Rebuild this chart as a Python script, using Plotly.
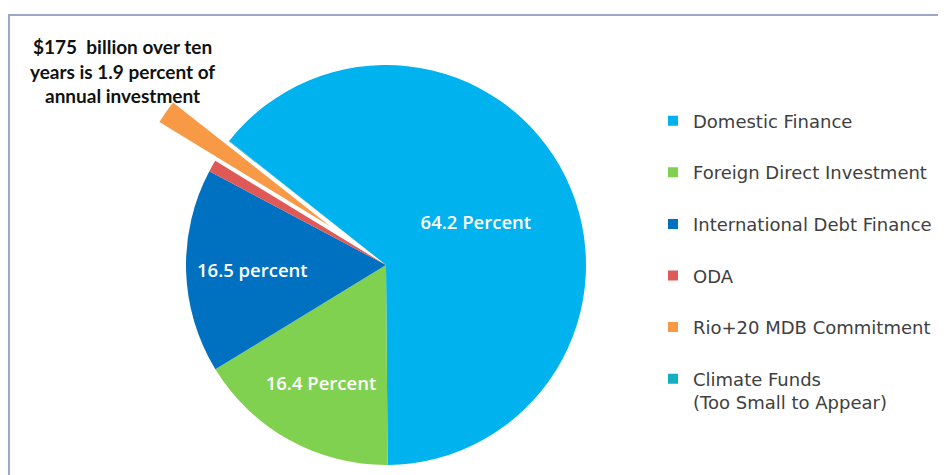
import math
import plotly.graph_objects as go

# shares of annual investment (percent)
sources = ["Domestic Finance", "Foreign Direct Investment", "International Debt Finance",
           "ODA", "Rio+20 MDB Commitment", "Climate Funds<br>(Too Small to Appear)"]
shares = [64.2, 16.4, 16.5, 0.95, 1.9, 0.05]
slice_text = ["64.2 Percent", "16.4 Percent", "16.5 percent", "", "", ""]
colors = ["#00B2EE", "#80D14F", "#0071C1", "#DF5A56", "#F89A45", "#14AEC3"]

note = "$175  billion over ten<br>years is 1.9 percent of<br>annual investment"

# the page puts the figure 8px in from the window corner
OFF = 8
W, H = 946 - OFF, 475 - OFF

def px(x):
    return (x - OFF) / W

def py(y):
    return 1 - (y - OFF) / H

cx, cy, r = 386, 265, 200      # pie centre and radius (window pixels)
rotation = -51.6
pull_px = 68                    # how far the Rio+20 slice sits out
hl = 4                          # index of pulled slice

def domain(cx_, cy_):
    return dict(x=[px(cx_ - r), px(cx_ + r)], y=[py(cy_ + r), py(cy_ - r)])

# main pie, the pulled slice left empty
main_colors = [c if i != hl else "rgba(0,0,0,0)" for i, c in enumerate(colors)]
fig = go.Figure()
fig.add_trace(go.Pie(
    labels=sources, values=shares, sort=False, direction="clockwise",
    rotation=rotation, domain=domain(cx, cy),
    marker=dict(colors=main_colors, line=dict(width=0)),
    text=slice_text, textinfo="text",
    textposition=["inside" if t else "none" for t in slice_text],
    insidetextorientation="horizontal",
    textfont=dict(family="Open Sans", size=18.5, color="white", weight=600),
    showlegend=False, hoverinfo="label+percent",
))

# the pulled Rio+20 slice: same pie, shifted along its bisector
total = sum(shares)
mid = rotation - (sum(shares[hl + 1:]) + shares[hl] / 2) / total * 360
dx = pull_px * math.sin(math.radians(mid))
dy = pull_px * math.cos(math.radians(mid))
pull_colors = [c if i == hl else "rgba(0,0,0,0)" for i, c in enumerate(colors)]
fig.add_trace(go.Pie(
    labels=sources, values=shares, sort=False, direction="clockwise",
    rotation=rotation, domain=domain(cx + dx, cy - dy),
    marker=dict(colors=pull_colors, line=dict(width=0)),
    textinfo="none", showlegend=False, hoverinfo="label+percent",
))

# legend entries
for name, c in zip(sources, colors):
    fig.add_trace(go.Scatter(
        x=[None], y=[None], mode="markers", name=name, legendgroup=name,
        marker=dict(symbol="square", size=10, color=c),
    ))

fig.add_annotation(
    text=note, x=px(122), y=py(71), xref="paper", yref="paper",
    xanchor="center", yanchor="middle",
    showarrow=False, align="center",
    font=dict(family="Lato", size=19, color="#111111", weight="bold"),
)

fig.add_shape(type="rect", xref="paper", yref="paper",
              x0=px(9), x1=1.05, y0=-0.05, y1=py(15),
              line=dict(color="#9DA7C7", width=2), fillcolor="rgba(0,0,0,0)")

fig.update_layout(
    width=W, height=H,
    margin=dict(l=0, r=0, t=0, b=0),
    paper_bgcolor="white", plot_bgcolor="white",
    xaxis=dict(visible=False), yaxis=dict(visible=False),
    legend=dict(
        x=px(653), y=py(102.5), xanchor="left", yanchor="top",
        font=dict(family="DejaVu Sans", size=18, color="#404040"),
        tracegroupgap=25.2, valign="top", bgcolor="rgba(0,0,0,0)",
    ),
)

fig.write_html("out.html")
